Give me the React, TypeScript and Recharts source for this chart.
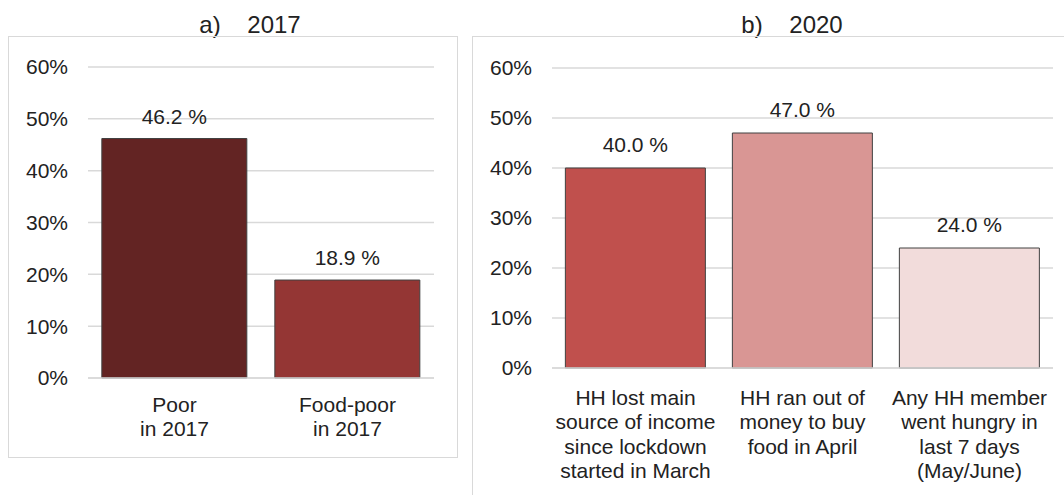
import { BarChart, Bar, XAxis, YAxis, CartesianGrid, Cell, LabelList } from 'recharts';

// panel a) 2017
const categories2017 = ['Poor\nin 2017', 'Food-poor\nin 2017'];
const values2017 = [46.2, 18.9];
const colors2017 = ['#632423', '#943634'];

// panel b) 2020
const categories2020 = [
  'HH lost main\nsource of income\nsince lockdown\nstarted in March',
  'HH ran out of\nmoney to buy\nfood in April',
  'Any HH member\nwent hungry in\nlast 7 days\n(May/June)',
];
const values2020 = [40.0, 47.0, 24.0];
const colors2020 = ['#c0504d', '#d99694', '#f2dcdb'];

const yTicks = [0, 10, 20, 30, 40, 50, 60];

const FONT = '"Liberation Sans", Arial, sans-serif';
const TEXT = '#222222';
const GRID = '#d9d9d9';

const rows2017 = categories2017.map((name, i) => ({ name, value: values2017[i] }));
const rows2020 = categories2020.map((name, i) => ({ name, value: values2020[i] }));

function CategoryTick({ x, y, payload, firstDy }: any) {
  const lines = String(payload.value).split('\n');
  return (
    <text x={x} y={y} textAnchor="middle" fill={TEXT} fontSize={21} fontFamily={FONT}>
      {lines.map((line, i) => (
        <tspan key={i} x={x} dy={i === 0 ? firstDy : 24.3}>
          {line}
        </tspan>
      ))}
    </text>
  );
}

function Panel({ rows, colors, width, height, margin, xHeight, firstDy, labelOffset }: any) {
  return (
    <BarChart width={width} height={height} data={rows} margin={margin} barCategoryGap="8%">
      <CartesianGrid vertical={false} stroke={GRID} strokeWidth={1.5} />
      <XAxis
        dataKey="name"
        interval={0}
        height={xHeight}
        tickLine={false}
        axisLine={{ stroke: GRID, strokeWidth: 1.5 }}
        tick={<CategoryTick firstDy={firstDy} />}
      />
      <YAxis
        domain={[0, 60]}
        ticks={yTicks}
        width={80}
        axisLine={false}
        tickLine={false}
        tickMargin={14}
        tickFormatter={(v: number) => `${v}%`}
        tick={{ fontSize: 21, fill: TEXT, fontFamily: FONT }}
      />
      <Bar dataKey="value" stroke="#404040" strokeWidth={1} isAnimationActive={false}>
        {rows.map((_: any, i: number) => (
          <Cell key={i} fill={colors[i]} />
        ))}
        <LabelList
          dataKey="value"
          position="top"
          offset={labelOffset}
          formatter={(v: any) => `${Number(v).toFixed(1)} %`}
          style={{ fontSize: 21, fill: TEXT, fontFamily: FONT }}
        />
      </Bar>
    </BarChart>
  );
}

const titleStyle: React.CSSProperties = {
  position: 'absolute',
  top: 13,
  fontSize: 24,
  lineHeight: '24px',
  fontFamily: FONT,
  color: TEXT,
  whiteSpace: 'pre',
  transform: 'translateX(-50%)',
};

export default function App() {
  return (
    <div
      style={{
        position: 'absolute',
        left: 0,
        top: 0,
        width: 1064,
        height: 495,
        overflow: 'hidden',
        background: '#fff',
        fontFamily: FONT,
      }}
    >
      <div style={{ ...titleStyle, left: 250 }}>{'a)    2017'}</div>
      <div style={{ ...titleStyle, left: 792 }}>{'b)    2020'}</div>

      <div
        style={{
          position: 'absolute',
          left: 8,
          top: 36,
          width: 450,
          height: 422,
          border: `1.5px solid ${GRID}`,
          boxSizing: 'border-box',
        }}
      />
      <div
        style={{
          position: 'absolute',
          left: 472,
          top: 36,
          width: 640,
          height: 500,
          border: `1.5px solid ${GRID}`,
          boxSizing: 'border-box',
        }}
      />

      <div style={{ position: 'absolute', left: 8, top: 36 }}>
        <Panel
          rows={rows2017}
          colors={colors2017}
          width={450}
          height={422}
          margin={{ top: 31, right: 24, left: 0, bottom: 0 }}
          xHeight={80}
          firstDy={26}
          labelOffset={15}
        />
      </div>
      <div style={{ position: 'absolute', left: 472, top: 36 }}>
        <Panel
          rows={rows2020}
          colors={colors2020}
          width={592}
          height={459}
          margin={{ top: 32, right: 11, left: 0, bottom: 0 }}
          xHeight={127}
          firstDy={29}
          labelOffset={16}
        />
      </div>
    </div>
  );
}
